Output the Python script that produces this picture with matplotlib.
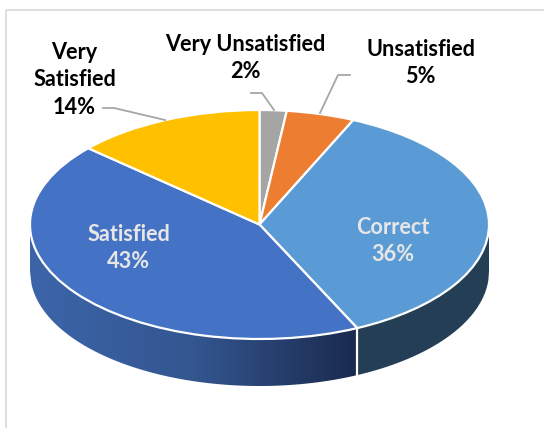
import numpy as np
import matplotlib
matplotlib.use("Agg")
import matplotlib.pyplot as plt
from matplotlib.colors import LinearSegmentedColormap
from matplotlib.lines import Line2D
from matplotlib.patches import Polygon

# Slices, clockwise from 12 o'clock. Shares are read off the drawn pie,
# percents are the printed labels
categories = ["Very Unsatisfied", "Unsatisfied", "Correct", "Satisfied", "Very Satisfied"]
shares = [1.9, 4.8, 36.3, 43.6, 13.4]
percents = ["2%", "5%", "36%", "43%", "14%"]
colors = ["#a5a5a5", "#ed7d31", "#5b9bd5", "#4472c4", "#ffc000"]

W, H = 544, 428
CX, CY, RX, RY = 259.5, 224.5, 229.5, 114.5
DEPTH = 47 / RY

plt.rcParams["font.family"] = ["Lato", "DejaVu Sans"]
plt.rcParams["font.weight"] = "bold"

fig = plt.figure(figsize=(W / 100, H / 100), dpi=100, facecolor="white")
ax = fig.add_axes([0, 0, 1, 1])

# Squashed pie: circle of radius 1 with different x and y scales
ax.pie(shares, colors=colors, startangle=90, counterclock=False, radius=1,
       wedgeprops={"edgecolor": "white", "linewidth": 1.6, "zorder": 3})
ax.set_aspect("auto")
ax.axis("off")


def wall(x0, x1):
    x = np.linspace(x0, x1, 200)
    top = -np.sqrt(np.clip(1 - x**2, 0, 1))
    upper = np.column_stack([x, top])
    lower = np.column_stack([x[::-1], top[::-1] - DEPTH])
    return np.vstack([upper, lower])


# Side wall: front faces of Satisfied (gradient) and Correct (flat)
split = np.sin(2 * np.pi * sum(shares[:3]) / sum(shares))
shade = LinearSegmentedColormap.from_list("side", ["#3c65a9", "#33568f", "#1a2a4e"])
img = ax.imshow(np.linspace(0, 1, 256).reshape(1, -1), cmap=shade, aspect="auto",
                extent=(-1, split, -1 - DEPTH, 0), zorder=1)
clip = Polygon(wall(-1, split), transform=ax.transData, fc="none", ec="none")
ax.add_patch(clip)
img.set_clip_path(clip)
ax.add_patch(Polygon(wall(split, 1), fc="#243f55", ec="none", zorder=1))
split_top = -np.sqrt(1 - split**2)
ax.plot([split, split], [split_top, split_top - DEPTH], color="white", lw=1.6, zorder=2)
ax.set_xlim(-CX / RX, (W - CX) / RX)
ax.set_ylim(-(H - CY) / RY, CY / RY)


def px_line(xs, ys, color, lw):
    fig.add_artist(Line2D([x / W for x in xs], [1 - y / H for y in ys],
                          color=color, lw=lw, transform=fig.transFigure))


def px_text(x, y, s, color="black"):
    fig.text(x / W, 1 - y / H, s, ha="center", va="center", fontsize=15.6,
             fontweight="bold", color=color, linespacing=1.38)


# Chart frame
px_line([6, 6, W], [H, 9.5, 9.5], "#d9d9d9", 1.2)

# Leader lines
px_line([103, 114, 165], [108, 108, 120], "#a6a6a6", 1.3)
px_line([251, 262, 274], [93, 93, 110], "#a6a6a6", 1.3)
px_line([350, 338, 320], [75, 75, 113], "#a6a6a6", 1.3)

# Data labels
px_text(74.5, 80, "Very\nSatisfied\n" + percents[4])
px_text(245, 58, categories[0] + "\n" + percents[0])
px_text(420.5, 63, categories[1] + "\n" + percents[1])
px_text(128.5, 248, categories[3] + "\n" + percents[3], color="#e7e6e6")
px_text(393, 241, categories[2] + "\n" + percents[2], color="#e7e6e6")

fig.savefig("out.png", dpi=100)
